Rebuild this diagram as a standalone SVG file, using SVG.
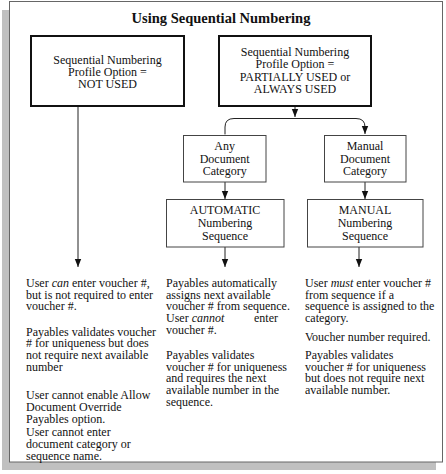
<svg xmlns="http://www.w3.org/2000/svg" width="446" height="474" viewBox="0 0 446 474">
<style>
text{font-family:"Liberation Serif","Times New Roman",serif;font-size:12px;fill:#111}
.c{text-anchor:middle}
.title{font-size:14.5px;font-weight:bold}
.big{fill:#fff;stroke:#111;stroke-width:2}
.small{fill:#fff;stroke:#444;stroke-width:1}
.conn{fill:none;stroke:#222;stroke-width:1}
</style>
<defs>
<marker id="ah" viewBox="0 0 8 8" refX="8" refY="4" markerWidth="8" markerHeight="8" markerUnits="userSpaceOnUse" orient="auto">
<path d="M0,0.8 L8,4 L0,7.2 Z" fill="#111"/>
</marker>
</defs>
<g id="frame">
<rect x="2" y="10" width="434" height="460" fill="#c0c0c0"/>
<rect x="9.5" y="1.5" width="433" height="460.5" fill="#fff" stroke="#666" stroke-width="1"/>
<text class="c title" x="221" y="23">Using Sequential Numbering</text>
</g>
<g id="connectors">
<path class="conn" d="M78,107 V267" marker-end="url(#ah)"/>
<path class="conn" d="M295,107 V117" marker-end="url(#ah)"/>
<path class="conn" d="M225,134 V127 Q225,118.5 234,118.5 H356 Q365,118.5 365,127 V134" marker-start="url(#ah)" marker-end="url(#ah)"/>
<path class="conn" d="M225,182 V199" marker-end="url(#ah)"/>
<path class="conn" d="M365,182 V199" marker-end="url(#ah)"/>
<path class="conn" d="M225,247 V267" marker-end="url(#ah)"/>
<path class="conn" d="M359,247 V267" marker-end="url(#ah)"/>
</g>
<g id="notUsed">
<rect class="big" x="31" y="36" width="153" height="70"/>
<text class="c" x="107.5" y="63.5">Sequential Numbering</text>
<text class="c" x="107.5" y="75.5">Profile Option =</text>
<text class="c" x="107.5" y="87.5">NOT USED</text>
</g>
<g id="partiallyUsed">
<rect class="big" x="219" y="36" width="152" height="70"/>
<text class="c" x="295" y="56">Sequential Numbering</text>
<text class="c" x="295" y="68.3">Profile Option =</text>
<text class="c" x="295" y="80.6">PARTIALLY USED or</text>
<text class="c" x="295" y="93">ALWAYS USED</text>
</g>
<g id="anyDocCategory">
<rect class="small" x="183.5" y="135.5" width="82.5" height="46.5"/>
<text class="c" x="224.7" y="150">Any</text>
<text class="c" x="224.7" y="162.5">Document</text>
<text class="c" x="224.7" y="175">Category</text>
</g>
<g id="manualDocCategory">
<rect class="small" x="324.5" y="135.5" width="81.5" height="46.5"/>
<text class="c" x="365" y="150">Manual</text>
<text class="c" x="365" y="162.5">Document</text>
<text class="c" x="365" y="175">Category</text>
</g>
<g id="automaticSeq">
<rect class="small" x="166.5" y="199.5" width="117.5" height="47.5"/>
<text class="c" x="225" y="214">AUTOMATIC</text>
<text class="c" x="225" y="227">Numbering</text>
<text class="c" x="225" y="239.5">Sequence</text>
</g>
<g id="manualSeq">
<rect class="small" x="307.5" y="199.5" width="115.5" height="47.5"/>
<text class="c" x="365" y="214">MANUAL</text>
<text class="c" x="365" y="227">Numbering</text>
<text class="c" x="365" y="239.5">Sequence</text>
</g>
<g id="notesNotUsed">
<text x="26" y="287">User <tspan font-style="italic">can</tspan> enter voucher #,</text>
<text x="26" y="298.7">but is not required to enter</text>
<text x="26" y="310.4">voucher #.</text>
<text x="26" y="335.5">Payables validates voucher</text>
<text x="26" y="347.2"># for uniqueness but does</text>
<text x="26" y="358.9">not require next available</text>
<text x="26" y="370.6">number</text>
<text x="26" y="399">User cannot enable Allow</text>
<text x="26" y="411.2">Document Override</text>
<text x="26" y="423.4">Payables option.</text>
<text x="26" y="435.6">User cannot enter</text>
<text x="26" y="447.8">document category or</text>
<text x="26" y="460">sequence name.</text>
</g>
<g id="notesAutomatic">
<text x="166" y="287">Payables automatically</text>
<text x="166" y="298.7">assigns next available</text>
<text x="166" y="310.4">voucher # from sequence.</text>
<text x="166" y="322">User <tspan font-style="italic">cannot</tspan></text>
<text x="278" y="322" text-anchor="end">enter</text>
<text x="166" y="333.7">voucher #.</text>
<text x="166" y="359">Payables validates</text>
<text x="166" y="370.7">voucher # for uniqueness</text>
<text x="166" y="382.4">and requires the next</text>
<text x="166" y="394.1">available number in the</text>
<text x="166" y="405.8">sequence.</text>
</g>
<g id="notesManual">
<text x="305" y="287">User <tspan font-style="italic">must</tspan> enter voucher #</text>
<text x="305" y="298.7">from sequence if a</text>
<text x="305" y="310.4">sequence is assigned to the</text>
<text x="305" y="322">category.</text>
<text x="305" y="341">Voucher number required.</text>
<text x="305" y="359">Payables validates</text>
<text x="305" y="370.7">voucher # for uniqueness</text>
<text x="305" y="382.4">but does not require next</text>
<text x="305" y="394.1">available number.</text>
</g>
</svg>
